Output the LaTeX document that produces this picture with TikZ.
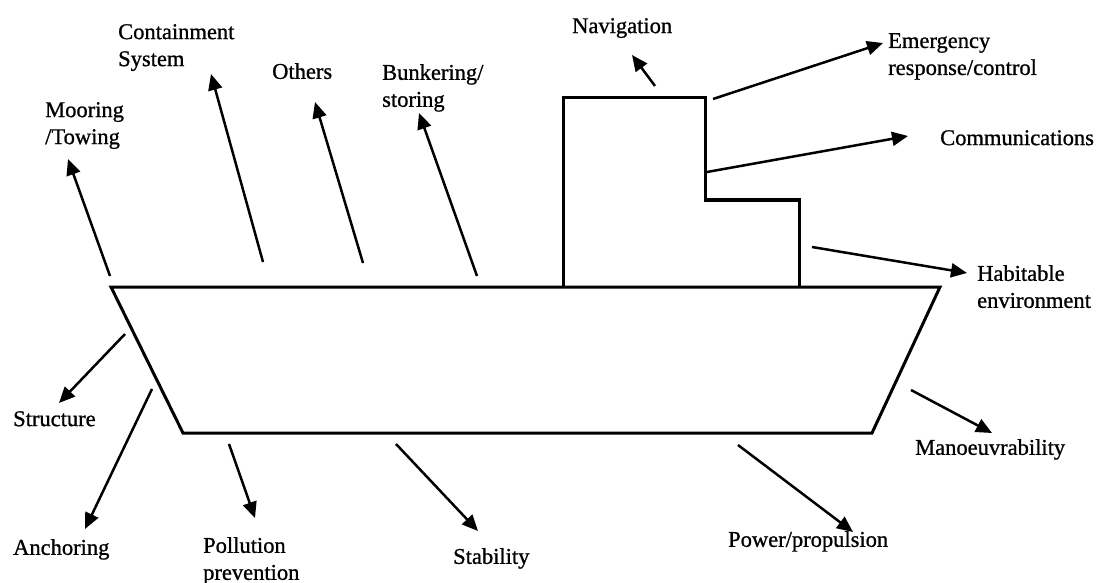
\documentclass[tikz,border=0pt]{standalone}
\usepackage{fontspec}
\setmainfont{Liberation Serif}[BoldFont={Liberation Serif},BoldFeatures={FakeBold=0.9}]
\usetikzlibrary{arrows.meta}
\begin{document}
\begin{tikzpicture}[x=1pt,y=-1pt,
  lbl/.style={anchor=north west,inner sep=0pt,align=left,font=\fontsize{22.5}{27}\selectfont\bfseries},
  arr/.style={line width=2.5pt,-{Triangle[length=16pt,width=14pt]}},
  hull/.style={line width=3pt,line join=miter}]
\useasboundingbox (0,0) rectangle (1109,583);
% ship
\draw[hull] (111,287) -- (940,287) -- (872,433) -- (183,433) -- cycle;
\draw[hull] (563,287) -- (563,98) -- (705,98) -- (705,200) -- (799,200) -- (799,287);
% labels
\node[lbl] (moor) at (45,102) {Mooring\\/Towing};
\node[lbl] (cont) at (118,24) {Containment\\System};
\node[lbl] (oth) at (272,63) {Others};
\node[lbl] (bunk) at (382,64) {Bunkering/\\storing};
\node[lbl] (nav) at (572,18) {Navigation};
\node[lbl] (emer) at (888,33) {Emergency\\response/control};
\node[lbl] (comm) at (940,130) {Communications};
\node[lbl] (hab) at (977,265) {Habitable\\environment};
\node[lbl] (str) at (13,411) {Structure};
\node[lbl] (anc) at (13,539) {Anchoring};
\node[lbl] (pol) at (203,537) {Pollution\\prevention};
\node[lbl] (stab) at (453,548) {Stability};
\node[lbl] (pow) at (728,531) {Power/propulsion};
\node[lbl] (man) at (915,439) {Manoeuvrability};
% arrow end points
\coordinate (moorA) at (110,276); \coordinate (moorB) at (68,159);
\coordinate (contA) at (263,262); \coordinate (contB) at (211,74);
\coordinate (othA) at (363,263);  \coordinate (othB) at (315,102);
\coordinate (bunkA) at (477,276); \coordinate (bunkB) at (419,113);
\coordinate (navA) at (655,86);   \coordinate (navB) at (632,55);
\coordinate (emerA) at (713,99);  \coordinate (emerB) at (883,43);
\coordinate (commA) at (707,172); \coordinate (commB) at (908,136);
\coordinate (habA) at (812,247);  \coordinate (habB) at (967,273);
\coordinate (strA) at (125,334);  \coordinate (strB) at (59,403);
\coordinate (ancA) at (152,389);  \coordinate (ancB) at (85,529);
\coordinate (polA) at (229,444);  \coordinate (polB) at (255,518);
\coordinate (stabA) at (396,444); \coordinate (stabB) at (478,531);
\coordinate (powA) at (738,445);  \coordinate (powB) at (853,532);
\coordinate (manA) at (911,390);  \coordinate (manB) at (992,433);
\foreach \n in {moor,cont,oth,bunk,nav,emer,comm,hab,str,anc,pol,stab,pow,man}
  \draw[arr] (\n A) -- (\n B);
\end{tikzpicture}
\end{document}
